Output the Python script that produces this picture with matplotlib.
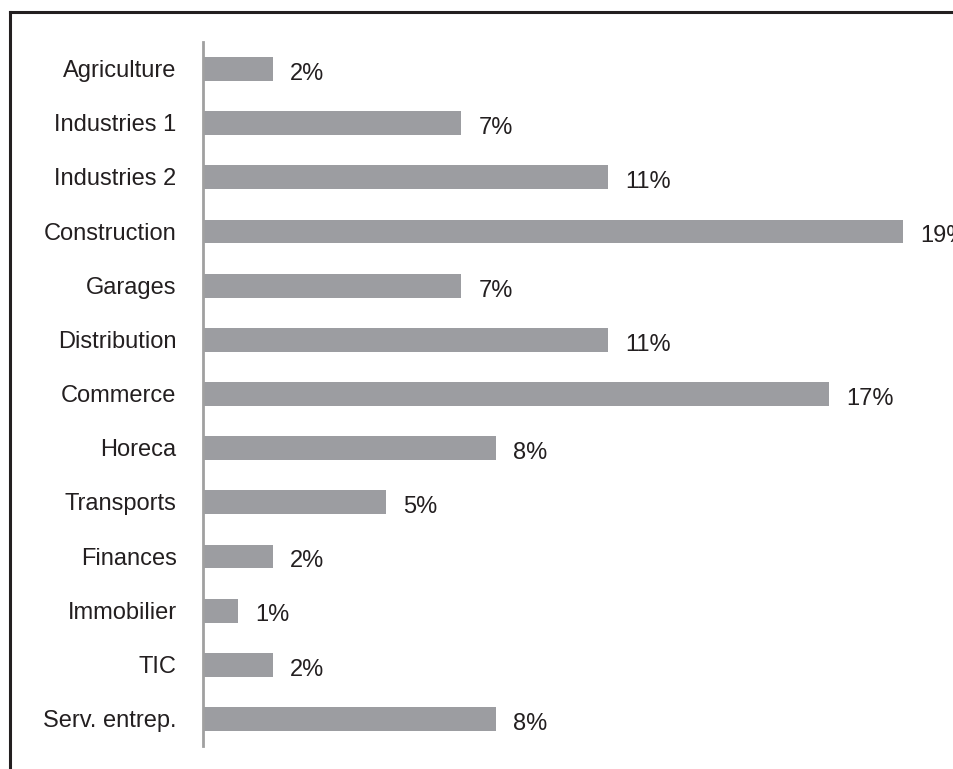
import matplotlib
matplotlib.use("Agg")
import matplotlib.pyplot as plt
from matplotlib.lines import Line2D

categories = ["Agriculture", "Industries 1", "Industries 2", "Construction", "Garages",
              "Distribution", "Commerce", "Horeca", "Transports", "Finances",
              "Immobilier", "TIC", "Serv. entrep."]
values = [1.9, 7.0, 11.0, 19.0, 7.0, 11.0, 17.0, 7.95, 4.97, 1.9, 0.95, 1.9, 7.95]
value_labels = ["2%", "7%", "11%", "19%", "7%", "11%", "17%", "8%", "5%", "2%", "1%", "2%", "8%"]

plt.rcParams['font.family'] = ['Liberation Sans', 'DejaVu Sans']
W, H = 954, 769
fig = plt.figure(figsize=(W / 100, H / 100), dpi=100)
fig.patch.set_facecolor("white")

# frame lines (top and left)
fig.add_artist(Line2D([10.5 / W, 1.0], [1 - 12 / H, 1 - 12 / H], color="#231f20", lw=2.2,
                      transform=fig.transFigure))
fig.add_artist(Line2D([10.5 / W, 10.5 / W], [0.0, 1 - 12 / H], color="#231f20", lw=2.2,
                      transform=fig.transFigure))

left, right = 203 / W, 903 / W
top, bottom = 1 - 42 / H, 1 - 746 / H
ax = fig.add_axes([left, bottom, right - left, top - bottom])
ax.set_facecolor("none")
y = list(range(len(categories)))
ax.barh(y, values, height=0.44, color="#9c9da1", edgecolor="none")
ax.set_xlim(0, 19.0)
ax.set_ylim(len(categories) - 0.5, -0.5)

for s in ["top", "right", "bottom"]:
    ax.spines[s].set_visible(False)
ax.spines["left"].set_color("#a0a0a0")
ax.spines["left"].set_linewidth(2)
ax.set_xticks([])
ax.set_yticks([])

txtc = "#231f20"
for i, (v, lab, cat) in enumerate(zip(values, value_labels, categories)):
    ax.annotate(lab, (v, i), xytext=(12.5, -3.5), textcoords="offset points",
                ha="left", va="center", fontsize=17, color=txtc, clip_on=False)
    ax.annotate(cat, (0, i), xytext=(-19, -1.5), textcoords="offset points",
                ha="right", va="center", fontsize=17, color=txtc, clip_on=False)

fig.savefig("out.png", dpi=100)
